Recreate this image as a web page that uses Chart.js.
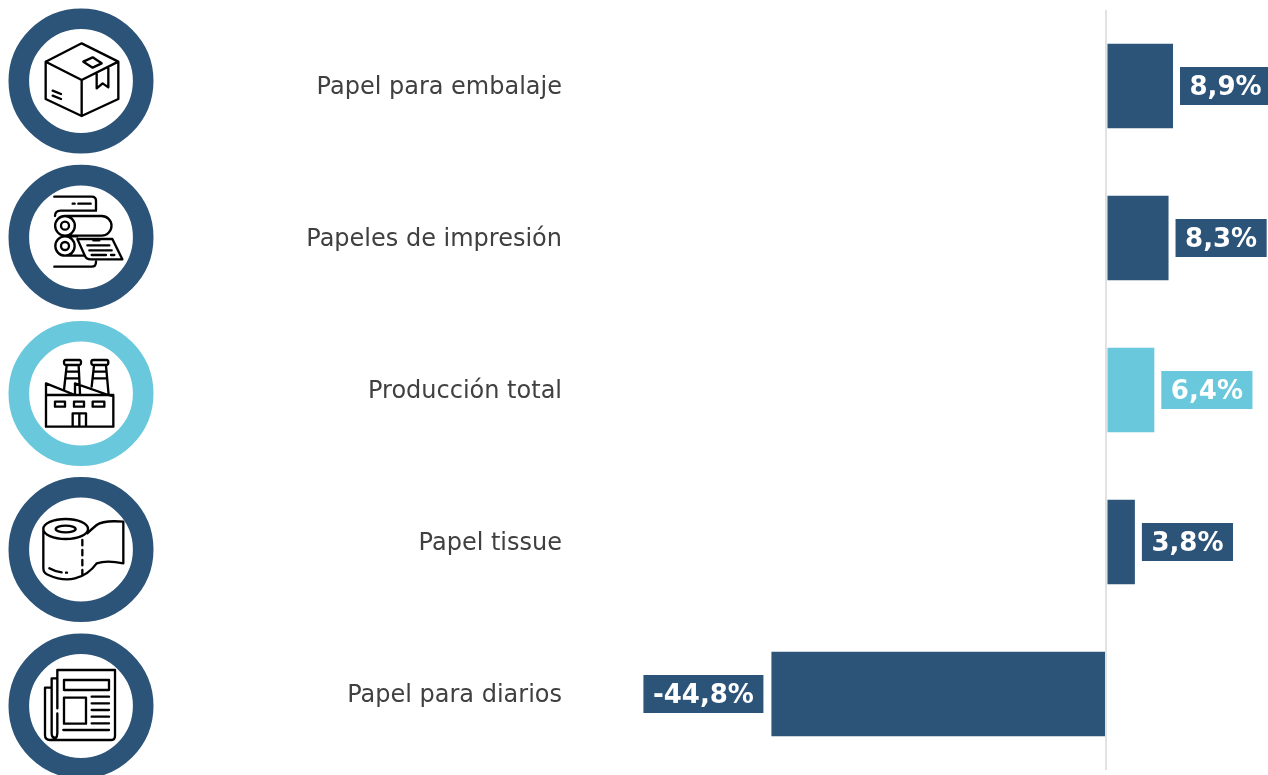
<!DOCTYPE html>
<html lang="es">
<head>
  <meta charset="UTF-8">
  <title>Producción de papel</title>
  <style>
    html, body { margin: 0; padding: 0; background: #fff; overflow: hidden; }
    #chart-container { width: 1268px; height: 775px; }
    canvas { display: block; }
  </style>
  <script src="https://cdn.jsdelivr.net/npm/chart.js"></script>
</head>
<body>
  <div id="chart-container">
    <canvas id="paperChart"></canvas>
  </div>
  <script>
    const categories = ['Papel para embalaje', 'Papeles de impresión', 'Producción total', 'Papel tissue', 'Papel para diarios'];
    const changes = [8.9, 8.3, 6.4, 3.8, -44.8];

    const DARK = '#2c5378';
    const LIGHT = '#69c8dc';
    const barColors = categories.map(c => c === 'Producción total' ? LIGHT : DARK);

    // rings sit on their own spacing, a little wider than the bars
    const ringCentersY = [81, 237.3, 393.5, 549.5, 706];
    const RING_X = 81;

    // icon outlines, traced at 3x page coordinates (see ICON_SCALE below)
    const iconPaths = [
      'M245 130 L355 185 V297 L245 348 L137 297 V185 Z M137 185 L245 240 L355 185 M245 240 V348 ' +
      'M250 185 L278 172 L305 190 L278 203 Z M290 222 V265 L308 250 L325 262 V205 M158 272 L183 282 M158 287 L183 297',

      'M163 590 H275 Q288 590 288 603 V630 M218 611 H224 M235 611 H272 ' +
      'M165 648 Q165 632 182 632 H288 M195 648 H305 A29 29 0 0 1 305 707 H195 ' +
      'M195 648 A29 29 0 0 0 195 707 A29 29 0 0 0 195 648 M207 677 A12 12 0 1 1 183 677 A12 12 0 1 1 207 677 ' +
      'M195 709 A29 29 0 0 0 195 767 A29 29 0 0 0 195 709 M207 738 A12 12 0 1 1 183 738 A12 12 0 1 1 207 738 ' +
      'M195 709 H232 M195 767 H255 ' +
      'M232 717 H337 L367 778 H272 Q259 778 255 768 Z M280 721 H298 M262 736 H328 M268 751 H335 M275 765 H318 M333 765 H343 ' +
      'M163 800 H275 Q288 800 288 785',

      'M138 1280 V1150 L225 1185 V1150 L325 1185 L340 1188 V1280 Z M138 1185 H340 ' +
      'M197 1080 H238 Q243 1080 243 1087 Q243 1095 238 1095 H197 Q192 1095 192 1087 Q192 1080 197 1080 Z ' +
      'M279 1080 H320 Q325 1080 325 1087 Q325 1095 320 1095 H279 Q274 1095 274 1087 Q274 1080 279 1080 Z ' +
      'M200 1097 L192 1170 M236 1097 L240 1180 M198 1115 H236 M196 1135 H238 ' +
      'M282 1097 L275 1160 M318 1097 L326 1185 M280 1115 H318 M278 1135 H320 ' +
      'M165 1205 H195 V1220 H165 Z M222 1205 H252 V1220 H222 Z M278 1205 H313 V1220 H278 Z ' +
      'M218 1280 V1240 H258 V1280 M238 1240 V1280',

      'M130 1587 A67 30 0 0 1 264 1587 A67 30 0 0 1 130 1587 Z M167 1587 A30 10 0 0 1 227 1587 A30 10 0 0 1 167 1587 Z ' +
      'M130 1587 V1705 Q130 1720 145 1725 Q190 1745 225 1735 Q265 1725 290 1690 Q320 1680 370 1690 V1565 Q310 1560 290 1575 Q272 1590 262 1600 ' +
      'M148 1705 Q165 1715 185 1717 M198 1718 H201 M247 1620 V1636 M247 1650 V1666 M247 1680 V1696 M247 1710 V1726',

      'M172 2125 V2010 H345 V2207 Q345 2220 332 2220 H150 Q135 2220 135 2205 V2063 H155 M172 2035 H155 V2200 Q155 2213 165 2213 ' +
      'M172 2140 V2200 Q172 2220 150 2220 M192 2040 H327 V2070 H192 Z M192 2093 H258 V2171 H192 Z ' +
      'M275 2090 H327 M275 2110 H327 M275 2130 H327 M275 2150 H327 M275 2170 H327 M190 2190 H327'
    ];
    const ICON_SCALE = 1 / 3;

    function formatValue(v) {
      return v.toFixed(1).replace('.', ',') + '%';
    }

    const ringsPlugin = {
      id: 'rings',
      afterDraw(chart) {
        const ctx = chart.ctx;
        ctx.save();
        ringCentersY.forEach((y, i) => {
          ctx.beginPath();
          ctx.arc(RING_X, y, 62.2, 0, Math.PI * 2);
          ctx.lineWidth = 20.6;
          ctx.strokeStyle = barColors[i];
          ctx.stroke();
        });
        ctx.scale(ICON_SCALE, ICON_SCALE);
        ctx.strokeStyle = '#000';
        ctx.lineWidth = 7;
        ctx.lineJoin = 'round';
        ctx.lineCap = 'round';
        iconPaths.forEach(d => ctx.stroke(new Path2D(d)));
        ctx.restore();
      }
    };

    const valueBoxPlugin = {
      id: 'valueBoxes',
      afterDatasetsDraw(chart) {
        const ctx = chart.ctx;
        const meta = chart.getDatasetMeta(0);
        ctx.save();
        ctx.font = 'bold 26px "DejaVu Sans"';
        ctx.textBaseline = 'middle';
        ctx.textAlign = 'center';
        meta.data.forEach((bar, i) => {
          const v = changes[i];
          const text = formatValue(v);
          const w = ctx.measureText(text).width + 19;
          const x = v >= 0 ? bar.x + 7 : bar.x - 8 - w;
          ctx.fillStyle = barColors[i];
          ctx.fillRect(x, bar.y - 19, w, 38);
          ctx.fillStyle = '#fff';
          ctx.fillText(text, x + w / 2, bar.y + 2);
        });
        ctx.restore();
      }
    };

    new Chart(document.getElementById('paperChart'), {
      type: 'bar',
      data: {
        labels: categories,
        datasets: [{
          data: changes,
          backgroundColor: barColors,
          barPercentage: 0.556,
          categoryPercentage: 1
        }]
      },
      options: {
        indexAxis: 'y',
        responsive: true,
        maintainAspectRatio: false,
        animation: false,
        layout: { padding: { top: 10, bottom: 5 } },
        plugins: {
          legend: { display: false },
          title: { display: false },
          tooltip: { enabled: false }
        },
        scales: {
          x: {
            min: -72,
            max: 21.6,
            border: { display: false },
            ticks: { display: false },
            grid: { color: '#e2e2e2', lineWidth: 2, drawTicks: false, z: 1 },
            afterBuildTicks: scale => { scale.ticks = [{ value: 0 }]; },
            afterFit: scale => { scale.height = 0; }
          },
          y: {
            border: { display: false },
            grid: { display: false, drawTicks: false },
            ticks: {
              color: '#404040',
              padding: 6,
              labelOffset: 1.5,
              font: { family: '"DejaVu Sans"', size: 24 }
            },
            afterFit: scale => {
              scale.width = 568;
              scale.paddingTop = 0;
              scale.paddingBottom = 0;
            }
          }
        }
      },
      plugins: [ringsPlugin, valueBoxPlugin]
    });
  </script>
</body>
</html>
